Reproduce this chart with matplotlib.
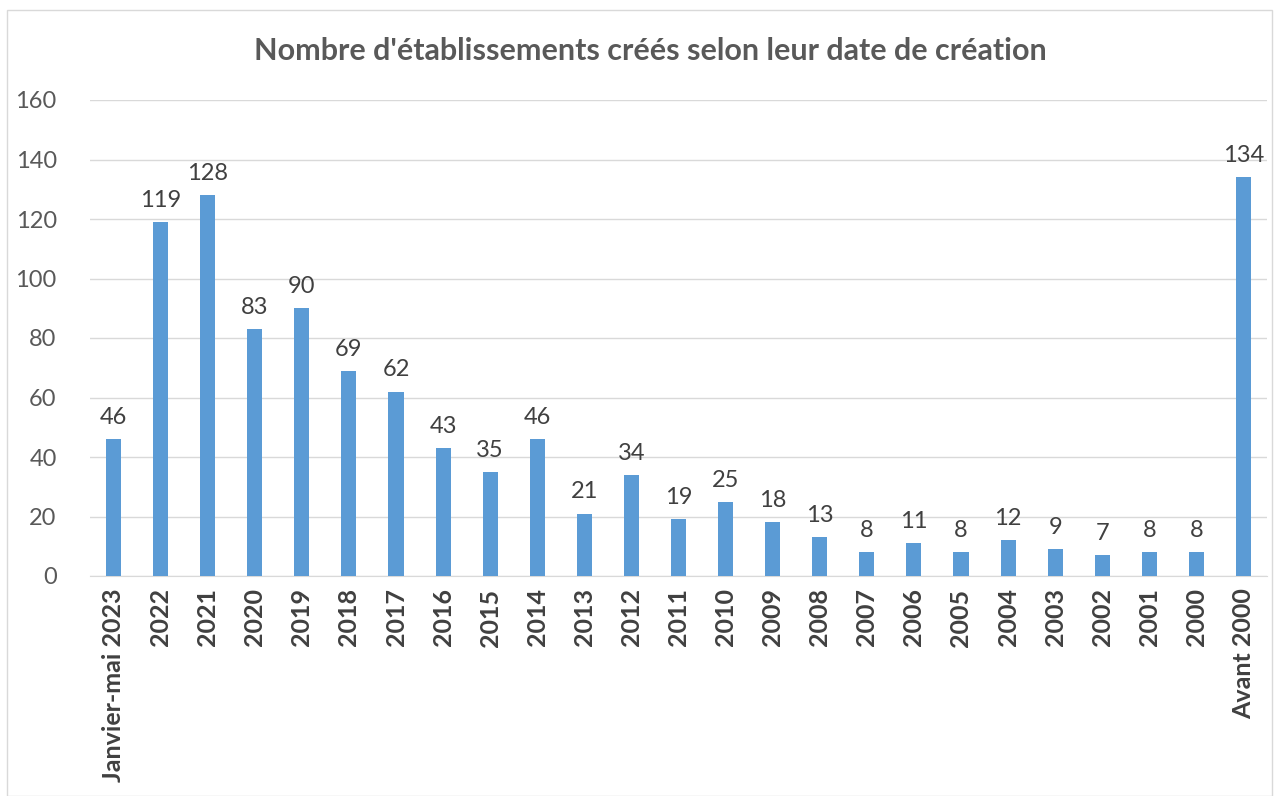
import matplotlib
matplotlib.use("Agg")
import matplotlib.pyplot as plt
from matplotlib.patches import Rectangle

categories = ["Janvier-mai 2023", "2022", "2021", "2020", "2019", "2018", "2017", "2016",
              "2015", "2014", "2013", "2012", "2011", "2010", "2009", "2008", "2007",
              "2006", "2005", "2004", "2003", "2002", "2001", "2000", "Avant 2000"]
values = [46, 119, 128, 83, 90, 69, 62, 43, 35, 46, 21, 34, 19, 25, 18, 13, 8, 11, 8, 12,
          9, 7, 8, 8, 134]
title = "Nombre d'établissements créés selon leur date de création"

plt.rcParams['font.family'] = ['Lato', 'DejaVu Sans']
W, H = 1280, 796
fig = plt.figure(figsize=(W / 100, H / 100), dpi=100)
fig.patches.append(Rectangle((7 / W, 0), (1272 - 7) / W, 1 - 10 / H, transform=fig.transFigure,
                             fill=False, edgecolor='#d9d9d9', linewidth=1))

left, right = 90 / W, 1267 / W
bottom, top = 1 - 576 / H, 1 - 100 / H
ax = fig.add_axes([left, bottom, right - left, top - bottom])

x = list(range(len(categories)))
bars = ax.bar(x, values, width=0.32, color='#5B9BD5', zorder=3)
ax.set_xlim(-0.5, len(categories) - 0.5)
ax.set_ylim(0, 160)
ax.set_yticks(range(0, 161, 20))
ax.yaxis.grid(True, color='#d9d9d9', linewidth=1, zorder=0)
for s in ['top', 'right', 'left']:
    ax.spines[s].set_visible(False)
ax.spines['bottom'].set_color('#d9d9d9')
ax.tick_params(axis='both', length=0)
ax.tick_params(axis='y', labelsize=17, labelcolor='#595959', pad=24)
ax.set_xticks(x)
ax.set_xticklabels(categories, rotation=90, fontsize=18, fontweight='bold', color='#404040')
ax.tick_params(axis='x', pad=9)

for xi, v in zip(x, values):
    ax.annotate(str(v), (xi, v), xytext=(0, 8), textcoords='offset points', ha='center',
                va='bottom', fontsize=17, color='#404040')

fig.text(650 / W, 1 - 51 / H, title, ha='center', va='center', fontsize=22,
         fontweight='bold', color='#595959')

fig.savefig("out.png", dpi=100, facecolor='white')
